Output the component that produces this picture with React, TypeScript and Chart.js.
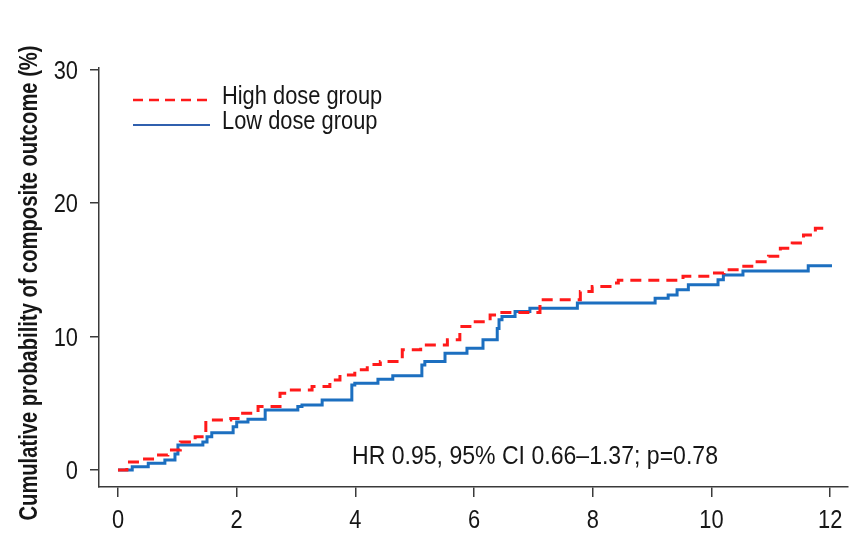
import React, { useEffect, useRef } from "react";
import { Chart, registerables } from "chart.js";

Chart.register(...registerables);

// Kaplan-Meier style cumulative incidence (time in months, value in %)
const highDoseTimes = [0, 0.15, 0.4, 0.62, 0.84, 1.05, 1.3, 1.48, 1.9, 2.1, 2.36, 2.73, 2.87, 3.27, 3.57, 3.74, 3.99, 4.2, 4.42, 4.79, 5.1, 5.55, 5.76, 5.97, 6.27, 6.44, 7.11, 7.79, 7.99, 8.29, 8.43, 9.52, 9.98, 10.21, 10.48, 10.74, 10.96, 11.16, 11.36, 11.55, 11.75, 11.97];
const highDoseValues = [0, 0.6, 0.82, 1.12, 1.5, 2.1, 2.5, 3.75, 3.85, 4.25, 4.75, 5.75, 6.0, 6.25, 6.75, 7.12, 7.5, 7.9, 8.12, 9.0, 9.37, 9.75, 10.75, 11.1, 11.6, 11.8, 12.75, 13.37, 13.75, 14.0, 14.2, 14.5, 14.75, 15.0, 15.25, 15.6, 16.0, 16.6, 17.0, 17.6, 18.1, 18.1];

const lowDoseTimes = [0, 0.24, 0.51, 0.79, 0.96, 1.01, 1.43, 1.5, 1.58, 1.94, 2.0, 2.19, 2.48, 3.03, 3.1, 3.44, 3.94, 3.99, 4.38, 4.63, 5.12, 5.17, 5.51, 5.88, 6.15, 6.39, 6.42, 6.47, 6.69, 6.94, 7.74, 9.05, 9.27, 9.42, 9.61, 10.11, 10.2, 10.53, 11.63, 12.03];
const lowDoseValues = [0, 0.25, 0.5, 0.75, 1.2, 1.87, 2.1, 2.5, 2.8, 3.25, 3.6, 3.8, 4.5, 4.75, 4.87, 5.25, 6.37, 6.5, 6.8, 7.05, 7.87, 8.12, 8.75, 9.12, 9.75, 10.6, 11.25, 11.5, 11.87, 12.12, 12.5, 12.87, 13.1, 13.5, 13.87, 14.25, 14.6, 14.9, 15.3, 15.3];

const seriesLabels = ["High dose group", "Low dose group"];
const xTickValues = [0, 2, 4, 6, 8, 10, 12];
const yTickValues = [0, 10, 20, 30];
const yAxisTitle = "Cumulative probability of composite outcome (%)";
const annotationText = "HR 0.95, 95% CI 0.66\u20131.37; p=0.78";

const FONT = "'Liberation Sans', Arial, Helvetica, sans-serif";
const NARROW = 0.84; // horizontal condensing of the reference's narrow typeface
const RED = "#FF1A1A";
const BLUE = "#1C6FC0";
const AXIS = "#3a3a3a";
const TEXT = "#161616";

function drawText(
  ctx: CanvasRenderingContext2D,
  text: string,
  x: number,
  y: number,
  font: string,
  align: CanvasTextAlign,
  sx: number,
  rotation = 0
) {
  ctx.save();
  ctx.translate(x, y);
  if (rotation) ctx.rotate(rotation);
  ctx.scale(sx, 1);
  ctx.font = font;
  ctx.textAlign = align;
  ctx.textBaseline = "middle";
  ctx.fillStyle = TEXT;
  ctx.fillText(text, 0, 0);
  ctx.restore();
}

const overlayPlugin = {
  id: "overlay",
  afterDraw(chart: any) {
    const ctx: CanvasRenderingContext2D = chart.ctx;
    const xs = chart.scales.x;
    const ys = chart.scales.y;
    ctx.save();
    const tickFont = `26px ${FONT}`;
    // x tick labels
    xTickValues.forEach((v) => {
      drawText(ctx, String(v), xs.getPixelForValue(v), 521, tickFont, "center", NARROW);
    });
    // y tick labels
    yTickValues.forEach((v) => {
      drawText(ctx, String(v), 78, ys.getPixelForValue(v) + 2, tickFont, "right", NARROW);
    });
    // y axis title
    const titleFont = `bold 25px ${FONT}`;
    ctx.font = titleFont;
    const tw = ctx.measureText(yAxisTitle).width;
    drawText(ctx, yAxisTitle, 30, 283, titleFont, "center", 475 / tw, -Math.PI / 2);

    // legend
    const lx0 = 133, lx1 = 210;
    const rows = [
      { y: 100, color: RED, dash: [10, 6], width: 2.5, label: seriesLabels[0] },
      { y: 125, color: "#3060AE", dash: [], width: 2, label: seriesLabels[1] },
    ];
    const legendFont = `26px ${FONT}`;
    rows.forEach((r) => {
      ctx.beginPath();
      ctx.setLineDash(r.dash);
      ctx.strokeStyle = r.color;
      ctx.lineWidth = r.width;
      ctx.moveTo(lx0, r.y);
      ctx.lineTo(lx1, r.y);
      ctx.stroke();
      ctx.setLineDash([]);
      drawText(ctx, r.label, 222, r.y - 3, legendFont, "left", NARROW);
    });
    // annotation
    const annFont = `26px ${FONT}`;
    ctx.font = annFont;
    const aw = ctx.measureText(annotationText).width;
    drawText(ctx, annotationText, 535, ys.getPixelForValue(1.0), annFont, "center", 366 / aw);
    ctx.restore();
  },
};

export default function App() {
  const ref = useRef<HTMLCanvasElement | null>(null);
  useEffect(() => {
    document.body.style.margin = "0";
    const canvas = ref.current;
    if (!canvas) return;
    const chart = new Chart(canvas, {
      type: "line",
      data: {
        datasets: [
          {
            label: seriesLabels[0],
            data: highDoseTimes.map((t, i) => ({ x: t, y: highDoseValues[i] })),
            stepped: true,
            borderColor: RED,
            borderWidth: 3,
            borderDash: [11, 7],
            pointRadius: 0,
            fill: false,
          },
          {
            label: seriesLabels[1],
            data: lowDoseTimes.map((t, i) => ({ x: t, y: lowDoseValues[i] })),
            stepped: true,
            borderColor: BLUE,
            borderWidth: 3,
            pointRadius: 0,
            fill: false,
          },
        ],
      },
      options: {
        responsive: false,
        animation: false,
        layout: { padding: { left: 0, top: 68, right: 11, bottom: 0 } },
        plugins: { legend: { display: false }, tooltip: { enabled: false } },
        scales: {
          x: {
            type: "linear",
            min: -0.32,
            max: 12.3,
            afterBuildTicks: (s: any) => {
              s.ticks = xTickValues.map((v) => ({ value: v }));
            },
            afterFit: (s: any) => {
              s.height = 48;
            },
            grid: { drawOnChartArea: false, drawTicks: true, tickLength: 10, color: AXIS, lineWidth: 1.5 },
            border: { display: true, color: AXIS, width: 1.5 },
            ticks: { display: false },
          },
          y: {
            type: "linear",
            min: -1.27,
            max: 30.1,
            afterBuildTicks: (s: any) => {
              s.ticks = yTickValues.map((v) => ({ value: v }));
            },
            afterFit: (s: any) => {
              s.width = 99;
            },
            grid: { drawOnChartArea: false, drawTicks: true, tickLength: 9, color: AXIS, lineWidth: 1.5 },
            border: { display: true, color: AXIS, width: 1.5 },
            ticks: { display: false },
            title: { display: false },
          },
        },
      },
      plugins: [overlayPlugin],
    } as any);
    return () => chart.destroy();
  }, []);
  return (
    <div style={{ width: 859, height: 535 }}>
      <canvas ref={ref} width={859} height={535} style={{ display: "block" }} />
    </div>
  );
}
